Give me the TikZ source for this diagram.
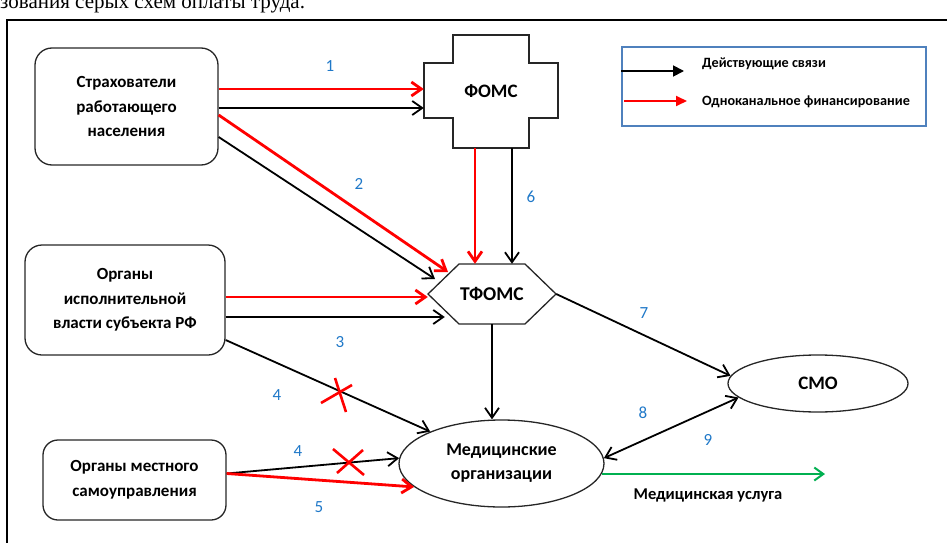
\documentclass[tikz,border=0pt]{standalone}
\usepackage{fontspec}
\setmainfont{Carlito}
\newfontfamily\capfont{Liberation Serif}
\usetikzlibrary{arrows.meta,calc,shapes.geometric}

\definecolor{numblue}{RGB}{31,120,200}
\definecolor{legblue}{RGB}{79,129,189}
\definecolor{uslgreen}{RGB}{0,176,80}

\begin{document}
\begin{tikzpicture}[x=1pt,y=-1pt,
    box/.style={draw=black!85,line width=1.3pt,rounded corners=17pt,align=center,inner sep=0pt,
        font=\fontsize{17}{24.5}\selectfont\bfseries},
    oval/.style={draw=black!85,line width=1.3pt,ellipse,align=center,inner sep=0pt,
        font=\fontsize{18}{24}\selectfont\bfseries},
    shp/.style={draw=black!85,line width=1.3pt},
    num/.style={text=numblue,font=\fontsize{17}{20}\selectfont},
    legtext/.style={anchor=west,inner sep=0pt,font=\fontsize{14.2}{16}\selectfont\bfseries},
    blk/.style={draw=black,line width=1.8pt,-{Straight Barb[length=10pt,width=14pt]}},
    rd/.style={draw=red,line width=2.8pt,-{Straight Barb[length=10pt,width=14pt]}},
    xmark/.style={draw=red,line width=2.6pt},
    grn/.style={draw=uslgreen,line width=2pt,-{Straight Barb[length=9pt,width=13pt]}}]
    \useasboundingbox (0,0) rectangle (947,543);
    \clip (0,0) rectangle (947,543);

    \node[anchor=base west,inner sep=0pt,font=\capfont\fontsize{21}{21}\selectfont] (cap) at (0,9) {зования серых схем оплаты труда.};
    \draw[line width=2.2pt] (947,20) -- (7,20) -- (7,543);

    \node[box,minimum width=183pt,minimum height=117pt] (strah) at (126.5,106.5) {Страхователи\\работающего\\населения};
    \node[box,minimum width=200pt,minimum height=110pt] (ispol) at (125,300) {Органы\\исполнительной\\власти субъекта РФ};
    \node[box,minimum width=183pt,minimum height=80pt,rounded corners=15pt] (mestn) at (134.5,480) {Органы местного\\самоуправления};

    \node[minimum width=134pt,minimum height=113pt,font=\fontsize{19}{20}\selectfont\bfseries] (foms) at (491,91.5) {ФОМС};
    \draw[shp,shift={(foms.center)}] (-38,-56.5) -- (38,-56.5) -- (38,-28.5) -- (67,-28.5) -- (67,26.5)
        -- (38,26.5) -- (38,56.5) -- (-38,56.5) -- (-38,26.5) -- (-67,26.5) -- (-67,-28.5) -- (-38,-28.5) -- cycle;

    \node[minimum width=128pt,minimum height=60pt,font=\fontsize{19.5}{20}\selectfont\bfseries] (tfoms) at (492,294) {ТФОМС};
    \draw[shp,shift={(tfoms.center)}] (-64,0) -- (-33,-30) -- (33,-30) -- (64,0) -- (33,30) -- (-33,30) -- cycle;

    \node[oval,minimum width=205pt,minimum height=87pt] (medorg) at (501.5,463.5) {Медицинские\\организации};
    \node[oval,minimum width=180pt,minimum height=57pt,font=\fontsize{19}{20}\selectfont\bfseries] (smo) at (818,383.5) {СМО};

    \node[draw=legblue,line width=1.2pt,minimum width=304pt,minimum height=79pt] (legend) at (774,86.5) {};
    \node[legtext] (leg1) at (702,64) {Действующие связи};
    \node[legtext] (leg2) at (702,102) {Одноканальное финансирование};
    \coordinate (la) at (684,71);
    \coordinate (lb) at (687,101);
    \draw[line width=1.8pt,-{Triangle[length=11pt,width=11pt]}] (legend.west |- la) -- (la);
    \draw[red,line width=1.8pt,-{Triangle[length=11pt,width=10pt]}] ([xshift=3pt]legend.west |- lb) -- (lb);

    \draw[rd] ([yshift=17.5pt]strah.east) coordinate (s1) -- (s1 -| foms.west);
    \draw[blk] ([yshift=-1.5pt]strah.east) coordinate (s2) -- (s2 -| foms.west);
    \draw[rd] ([yshift=-8.5pt]strah.east) -- ($(tfoms.center)+(-44,-22)$);
    \draw[blk] ([yshift=-30.5pt]strah.east) -- ($(tfoms.center)+(-57,-15)$);

    \draw[rd] ([xshift=-16pt]foms.south) coordinate (f1) -- (f1 |- tfoms.north);
    \draw[blk] ([xshift=21pt]foms.south) coordinate (f2) -- (f2 |- tfoms.north);

    \draw[rd] ([yshift=3pt]ispol.east) coordinate (i1) -- (i1 -| tfoms.west);
    \draw[blk,shorten >=-17pt] ([yshift=-17pt]ispol.east) coordinate (i2) -- (i2 -| tfoms.west);
    \draw[blk] ([yshift=-40pt]ispol.east) -- (medorg);
    \draw[xmark,shift={(338,394)}] (-3,-16) -- (8,18) (-17,9) -- (14,-9);

    \draw[blk] ([yshift=6.5pt]mestn.east) -- (medorg.177);
    \draw[xmark,shift={(349,462)}] (-16,-13) -- (15,13) (-12,11) -- (14,-12);
    \draw[rd] ([yshift=6.5pt]mestn.east) -- (medorg.195);

    \draw[blk] (tfoms.south) -- (tfoms.south |- medorg.north);
    \draw[blk] (tfoms.east) -- (smo.175);
    \draw[blk,{Straight Barb[length=10pt,width=14pt]}-{Straight Barb[length=10pt,width=14pt]}] (medorg.3) -- (smo.190);

    \coordinate (uslend) at (825,473);
    \draw[grn] (medorg.354) -- (medorg.354 -| uslend);
    \node[font=\fontsize{16.5}{18}\selectfont\bfseries] (usl) at (708,495) {Медицинская услуга};

    \node[num] (n1) at (330,66) {1};
    \node[num] (n2) at (359,184) {2};
    \node[num] (n6) at (531,197) {6};
    \node[num] (n3) at (340,342) {3};
    \node[num] (n7) at (644,313) {7};
    \node[num] (n4a) at (277,395) {4};
    \node[num] (n4b) at (298,451) {4};
    \node[num] (n5) at (319,507) {5};
    \node[num] (n8) at (643,413) {8};
    \node[num] (n9) at (708,440) {9};
\end{tikzpicture}
\end{document}
